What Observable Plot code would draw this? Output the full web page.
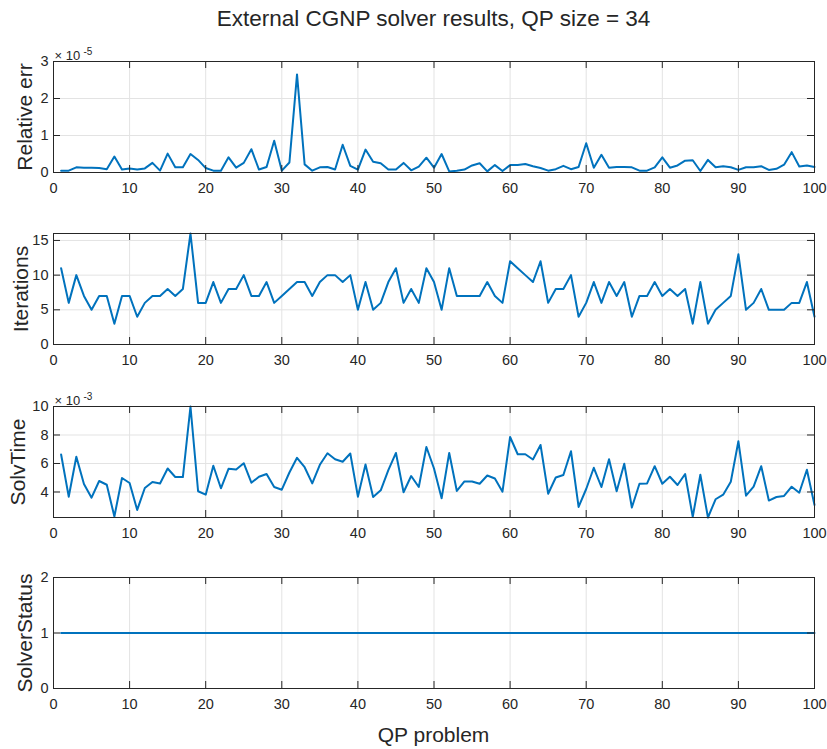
<!DOCTYPE html>
<html><head><meta charset="utf-8">
<script src="https://cdn.jsdelivr.net/npm/d3@7"></script>
<script src="https://cdn.jsdelivr.net/npm/@observablehq/plot@0.6"></script>
<style>
body{margin:0;background:#fff;}
#chart{position:relative;width:827px;height:749px;font-family:"Liberation Sans",Arial,sans-serif;color:#262626;}
#chart svg{position:absolute;left:0;overflow:visible;background:transparent;}
.t{position:absolute;left:53px;width:761px;text-align:center;white-space:nowrap;}
</style></head><body><div id="chart"></div>
<script>
const title = "External CGNP solver results, QP size = 34";
const xLabel = "QP problem";
const xTicks = [0, 10, 20, 30, 40, 50, 60, 70, 80, 90, 100];
const problems = d3.range(1, 101);

// Relative err, in units of 1e-5
const relErr = [0.05,0.05,0.14,0.13,0.13,0.12,0.09,0.43,0.08,0.11,
0.08,0.11,0.26,0.05,0.51,0.14,0.14,0.50,0.34,0.12,
0.05,0.05,0.41,0.13,0.26,0.63,0.08,0.15,0.86,0.05,
0.27,2.65,0.22,0.05,0.14,0.15,0.08,0.75,0.18,0.08,
0.62,0.29,0.25,0.08,0.08,0.26,0.06,0.16,0.40,0.13,
0.50,0.03,0.05,0.08,0.19,0.25,0.03,0.20,0.04,0.20,
0.20,0.23,0.17,0.12,0.05,0.09,0.18,0.09,0.15,0.79,
0.13,0.48,0.13,0.15,0.15,0.14,0.05,0.05,0.14,0.41,
0.13,0.19,0.32,0.33,0.04,0.34,0.14,0.17,0.14,0.07,
0.14,0.14,0.17,0.07,0.10,0.21,0.55,0.16,0.19,0.15];
const relErrTicks = [0, 1, 2, 3];

const iterations = [11,6,10,7,5,7,7,3,7,7,
4,6,7,7,8,7,8,16,6,6,
9,6,8,8,10,7,7,9,6,7,
8,9,9,7,9,10,10,9,10,5,
9,5,6,9,11,6,8,6,11,9,
5,11,7,7,7,7,9,7,6,12,
11,10,9,12,6,8,8,10,4,6,
9,6,9,7,9,4,7,7,9,7,
8,7,8,3,9,3,5,6,7,13,
5,6,8,5,5,5,6,6,9,4];
const iterTicks = [0, 5, 10, 15];

// SolvTime, in units of 1e-3
const solvTime = [6.63,3.67,6.47,4.56,3.60,4.77,4.51,2.28,4.98,4.63,
2.74,4.28,4.70,4.60,5.65,5.05,5.05,10.0,4.05,3.81,
5.84,4.26,5.63,5.58,6.02,4.65,5.07,5.26,4.35,4.16,
5.37,6.40,5.74,4.60,5.91,6.72,6.30,6.12,6.70,3.67,
5.93,3.65,4.12,5.53,6.74,3.98,5.12,4.35,7.16,5.65,
3.56,6.74,4.07,4.74,4.74,4.58,5.16,4.95,4.02,7.86,
6.65,6.65,6.28,7.30,3.88,5.02,5.19,6.86,2.95,4.21,
5.70,4.35,6.30,4.05,5.98,2.91,4.58,4.60,5.81,4.58,
5.07,4.49,5.26,2.26,5.21,2.21,3.49,3.81,4.72,7.56,
3.74,4.37,5.81,3.40,3.65,3.72,4.37,3.95,5.56,3.09];
const solvTicks = [4, 6, 8, 10];

const solverStatus = [1,1,1,1,1,1,1,1,1,1,1,1,1,1,1,1,1,1,1,1,
1,1,1,1,1,1,1,1,1,1,1,1,1,1,1,1,1,1,1,1,
1,1,1,1,1,1,1,1,1,1,1,1,1,1,1,1,1,1,1,1,
1,1,1,1,1,1,1,1,1,1,1,1,1,1,1,1,1,1,1,1,
1,1,1,1,1,1,1,1,1,1,1,1,1,1,1,1,1,1,1,1];
const statusTicks = [0, 1, 2];

const panels = [
  {values: relErr, domain: [0, 3], ticks: relErrTicks, label: "Relative err", exp: "-5", top: 61, labelX: 25},
  {values: iterations, domain: [0, 16], ticks: iterTicks, label: "Iterations", exp: null, top: 233, labelX: 21},
  {values: solvTime, domain: [2.21, 10], ticks: solvTicks, label: "SolvTime", exp: "-3", top: 406, labelX: 18},
  {values: solverStatus, domain: [0, 2], ticks: statusTicks, label: "SolverStatus", exp: null, top: 577, labelX: 25}
];

const chart = document.getElementById("chart");
const FH = 111, MT = 20, MB = 30, ML = 53, MR = 13, W = 827;
const FW = W - ML - MR, TL = 7;
const dark = "#262626", grid = "#e3e3e3";

for (const p of panels) {
  const marks = [
    Plot.gridX({ticks: xTicks, stroke: grid, strokeOpacity: 1}),
    Plot.gridY({ticks: p.ticks, stroke: grid, strokeOpacity: 1}),
    Plot.lineY(p.values, {x: problems, y: p.values, stroke: "#0072BD", strokeWidth: 2}),
    // inward ticks
    Plot.tickX(xTicks, {x: d => d, insetTop: FH - TL, stroke: dark}),
    Plot.tickX(xTicks, {x: d => d, insetBottom: FH - TL, stroke: dark}),
    Plot.tickY(p.ticks, {y: d => d, insetRight: FW - TL, stroke: dark}),
    Plot.tickY(p.ticks, {y: d => d, insetLeft: FW - TL, stroke: dark}),
    Plot.axisX({ticks: xTicks, anchor: "bottom", tickSize: 0, tickPadding: 10, fontSize: 14.5, label: null, tickFormat: d => String(d)}),
    Plot.axisY({ticks: p.ticks, anchor: "left", tickSize: 0, tickPadding: 5, fontSize: 14.5, label: null, tickFormat: d => String(d)}),
    Plot.frame({stroke: dark}),
    Plot.text([p.label], {frameAnchor: "left", textAnchor: "middle", lineAnchor: "middle", rotate: -90, dx: p.labelX - ML, fontSize: 21, fill: dark})
  ];
  if (p.exp) {
    marks.push(Plot.text(["\u00d7 10"], {frameAnchor: "top-left", textAnchor: "start", lineAnchor: "bottom", dx: 1, dy: -2, fontSize: 13, fill: dark}));
    marks.push(Plot.text([p.exp], {frameAnchor: "top-left", textAnchor: "start", lineAnchor: "bottom", dx: 30, dy: -7, fontSize: 10, fill: dark}));
  }
  const svg = Plot.plot({
    width: W, height: FH + MT + MB,
    marginTop: MT, marginBottom: MB, marginLeft: ML, marginRight: MR,
    x: {domain: [0, 100]},
    y: {domain: p.domain},
    style: {fontFamily: '"Liberation Sans", Arial, sans-serif', color: dark, background: "transparent", overflow: "visible"},
    marks
  });
  svg.style.top = (p.top - MT) + "px";
  chart.appendChild(svg);
}

const t = document.createElement("div");
t.className = "t"; t.textContent = title;
t.style.cssText = "top:8px;font-size:22.5px;line-height:22px;";
chart.appendChild(t);
const xl = document.createElement("div");
xl.className = "t"; xl.textContent = xLabel;
xl.style.cssText = "top:725px;font-size:21px;line-height:20px;";
chart.appendChild(xl);
</script></body></html>
